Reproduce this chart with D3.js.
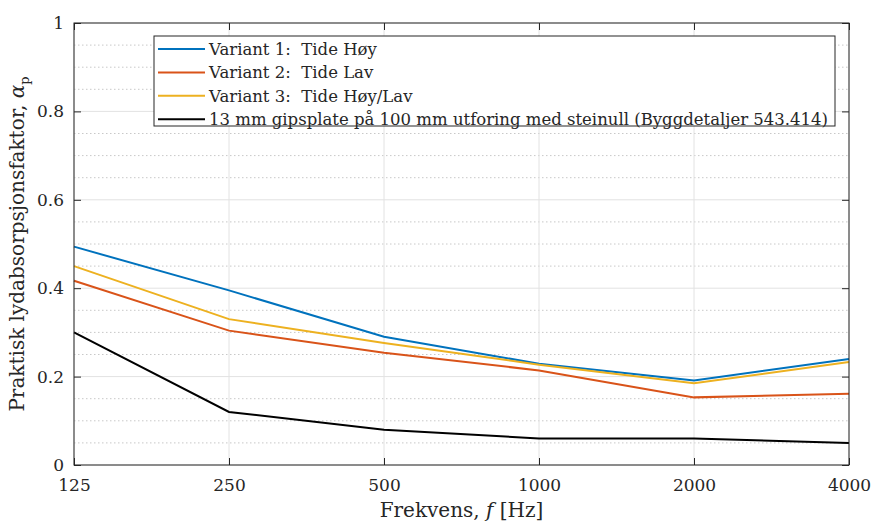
<!DOCTYPE html>
<html>
<head>
<meta charset="utf-8">
<script src="https://cdn.jsdelivr.net/npm/d3@7"></script>
<style>
  body { margin: 0; background: #fff; }
  svg text { font-family: "DejaVu Serif", serif; fill: #262626; }
</style>
</head>
<body>
<div class="chart"></div>
<script>
const w = 871;
const h = 524;

const freqs = [125, 250, 500, 1000, 2000, 4000];
const variant1 = [0.494, 0.395, 0.29, 0.229, 0.191, 0.24];
const variant2 = [0.417, 0.304, 0.254, 0.214, 0.153, 0.161];
const variant3 = [0.45, 0.33, 0.276, 0.227, 0.185, 0.233];
const reference = [0.30, 0.12, 0.08, 0.06, 0.06, 0.05];
const seriesNames = ["Variant 1:  Tide Høy", "Variant 2:  Tide Lav", "Variant 3:  Tide Høy/Lav",
                     "13 mm gipsplate på 100 mm utforing med steinull (Byggdetaljer 543.414)"];
const colors = ["#0072BD", "#D95319", "#EDB120", "#000000"];
const yTicks = [0, 0.2, 0.4, 0.6, 0.8, 1];
const yMinor = d3.range(1, 20).map(i => i * 0.05).filter(v => Math.round(v * 100) % 20 !== 0);

const series = [variant1, variant2, variant3, reference];

const m = {left: 74, right: 22, top: 23, bottom: 59};

const svg = d3.select(".chart").append("svg")
  .attr("width", w)
  .attr("height", h);

const x = d3.scaleLog()
  .domain([125, 4000])
  .range([m.left, w - m.right]);

const y = d3.scaleLinear()
  .domain([0, 1])
  .range([h - m.bottom, m.top]);

// minor dotted grid
svg.append("g").selectAll("line")
  .data(yMinor)
  .enter().append("line")
  .attr("x1", m.left).attr("x2", w - m.right)
  .attr("y1", d => y(d)).attr("y2", d => y(d))
  .attr("stroke", "#c8c8c8")
  .attr("stroke-width", 1)
  .attr("stroke-dasharray", "1.5,2.5");

// major grid
svg.append("g").selectAll("line")
  .data(yTicks)
  .enter().append("line")
  .attr("x1", m.left).attr("x2", w - m.right)
  .attr("y1", d => y(d)).attr("y2", d => y(d))
  .attr("stroke", "#e2e2e2");

svg.append("g").selectAll("line")
  .data(freqs)
  .enter().append("line")
  .attr("x1", d => x(d)).attr("x2", d => x(d))
  .attr("y1", m.top).attr("y2", h - m.bottom)
  .attr("stroke", "#e2e2e2");

// axes with inward ticks
const xAxis = d3.axisBottom(x).tickValues(freqs).tickFormat(d3.format("d")).tickSizeInner(-7).tickSizeOuter(0).tickPadding(14);
const xTop = d3.axisTop(x).tickValues(freqs).tickFormat("").tickSizeInner(-7).tickSizeOuter(0);
const yAxis = d3.axisLeft(y).tickValues(yTicks).tickFormat(d => d === 0 || d === 1 ? d : d3.format(".1f")(d)).tickSizeInner(-7).tickSizeOuter(0).tickPadding(10);
const yRight = d3.axisRight(y).tickValues(yTicks).tickFormat("").tickSizeInner(-7).tickSizeOuter(0);

function styleAxis(g) {
  g.select(".domain").remove();
  g.selectAll(".tick line").attr("stroke", "#262626");
  g.selectAll(".tick text").style("font-size", "17px").attr("fill", "#262626");
}

svg.append("g").attr("transform", `translate(0,${h - m.bottom})`).call(xAxis).call(styleAxis);
svg.append("g").attr("transform", `translate(0,${m.top})`).call(xTop).call(styleAxis);
svg.append("g").attr("transform", `translate(${m.left},0)`).call(yAxis).call(styleAxis);
svg.append("g").attr("transform", `translate(${w - m.right},0)`).call(yRight).call(styleAxis);

// lines
const line = d3.line()
  .x((d, i) => x(freqs[i]))
  .y(d => y(d));

svg.append("g").selectAll("path")
  .data(series)
  .enter().append("path")
  .attr("d", line)
  .attr("fill", "none")
  .attr("stroke", (d, i) => colors[i])
  .attr("stroke-width", 2);

// frame
svg.append("rect")
  .attr("x", m.left).attr("y", m.top)
  .attr("width", w - m.left - m.right)
  .attr("height", h - m.top - m.bottom)
  .attr("fill", "none")
  .attr("stroke", "#262626")
  .attr("stroke-width", 1);

// legend
const leg = svg.append("g").attr("transform", "translate(154,36)");
leg.append("rect")
  .attr("width", 681).attr("height", 90)
  .attr("fill", "#fff")
  .attr("stroke", "#262626");

const rows = leg.selectAll("g.row")
  .data(seriesNames)
  .enter().append("g")
  .attr("transform", (d, i) => `translate(0,${13 + i * 23.4})`);

rows.append("line")
  .attr("x1", 4).attr("x2", 51)
  .attr("stroke", (d, i) => colors[i])
  .attr("stroke-width", 2);

rows.append("text")
  .attr("x", 55)
  .attr("dy", "0.35em")
  .style("font-size", "16.5px")
  .style("white-space", "pre")
  .attr("xml:space", "preserve")
  .text(d => d);

// axis labels
const xl = svg.append("text")
  .attr("x", (m.left + w - m.right) / 2)
  .attr("y", 517)
  .attr("text-anchor", "middle")
  .style("font-size", "20px");
xl.append("tspan").text("Frekvens, ");
xl.append("tspan").style("font-style", "italic").text("f");
xl.append("tspan").text(" [Hz]");

const yl = svg.append("text")
  .attr("transform", `translate(24,${(m.top + h - m.bottom) / 2}) rotate(-90)`)
  .attr("text-anchor", "middle")
  .style("font-size", "20px");
yl.append("tspan").text("Praktisk lydabsorpsjonsfaktor, ");
yl.append("tspan").style("font-style", "italic").text("α");
yl.append("tspan").attr("dy", 5).style("font-size", "13px").text("p");
</script>
</body>
</html>
